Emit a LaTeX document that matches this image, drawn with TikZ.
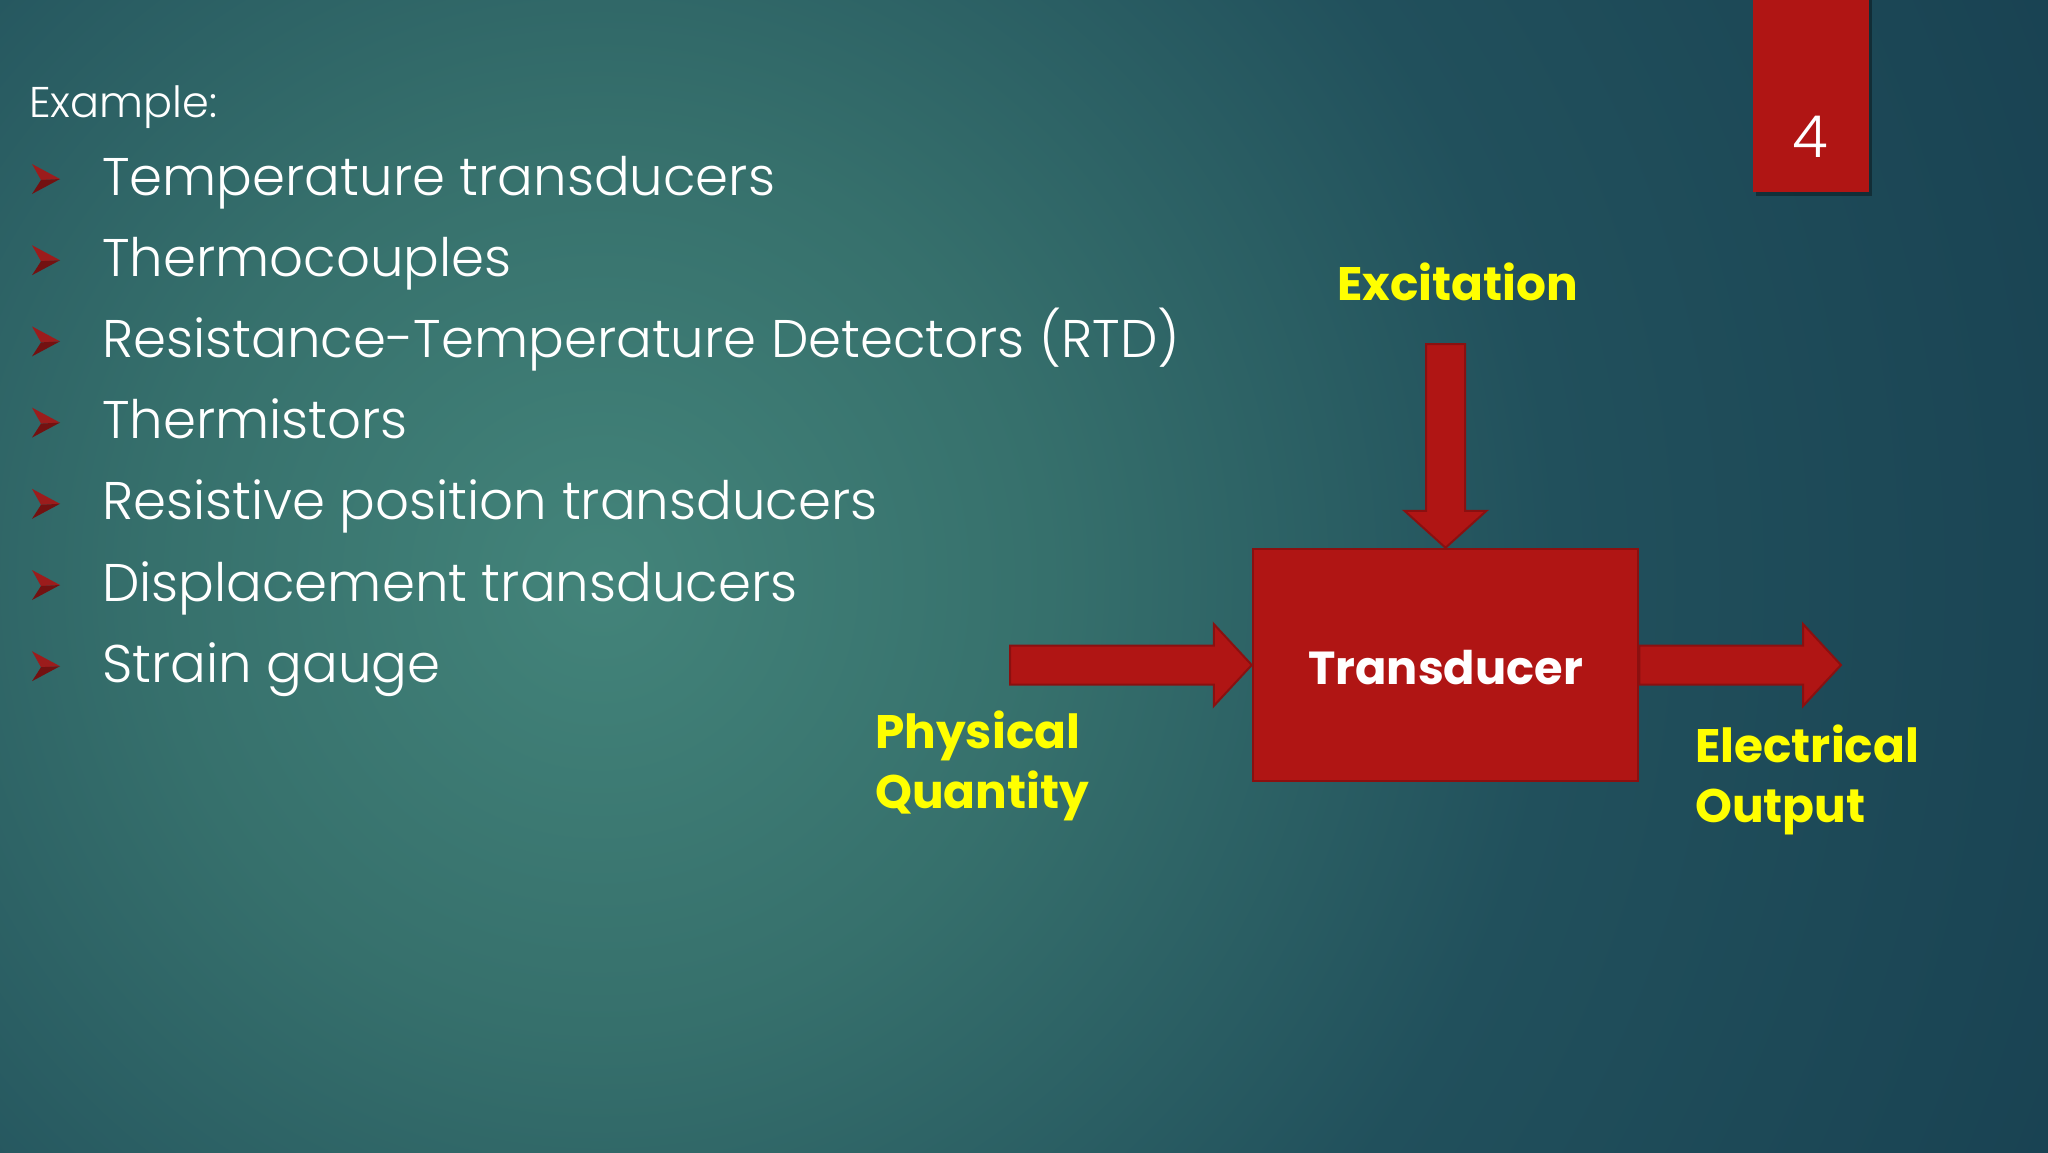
\documentclass[tikz,border=0pt]{standalone}
\usepackage{fontspec}
\setmainfont{Poppins}
\newfontfamily\lightf{Poppins}[UprightFont={* Light}]
\newfontfamily\boldf{Poppins}[UprightFont={* Bold}]
\usetikzlibrary{calc}
\definecolor{bgA}{HTML}{43847A}
\definecolor{bgB}{HTML}{36706C}
\definecolor{bgC}{HTML}{21505C}
\definecolor{bgD}{HTML}{173F50}
\definecolor{bgE}{HTML}{123346}
\definecolor{redA}{HTML}{B01514}
\definecolor{redB}{HTML}{8A1010}
\definecolor{bulA}{HTML}{9C1C1C}
\definecolor{bulB}{HTML}{731111}
\definecolor{yel}{HTML}{FFFF00}
\pgfdeclareradialshading{bgshade}{\pgfpoint{0bp}{0bp}}{color(0bp)=(bgA); color(7bp)=(bgB); color(15bp)=(bgC); color(27bp)=(bgD); color(50bp)=(bgE)}
\tikzset{
  item/.style={anchor=base west, text=white, inner sep=0pt, font=\lightf\fontsize{53}{60}\selectfont},
  ylab/.style={anchor=base west, text=yel, inner sep=0pt, align=left},
  blk/.style={fill=redA, draw=redB, line width=2pt, line join=miter},
  bul/.pic={
    \fill[bulA] (0,-31) -- (28,-16) -- (9,-15) -- cycle;
    \fill[bulB] (9,-15) -- (28,-16) -- (0,-1) -- cycle;
  }
}
\begin{document}
\begin{tikzpicture}[x=1pt,y=-1pt]
\useasboundingbox (0,0) rectangle (2048,1152);
\begin{scope}
\clip (0,0) rectangle (2048,1152);
\fill[bgE] (0,0) rectangle (2048,1152);
\shade[shading=bgshade] (600,580) circle (1600);
\end{scope}
% page number tab
\fill[black, opacity=0.35] (1756,0) rectangle (1872,196);
\node[fill=redA, minimum width=116pt, minimum height=192pt, inner sep=0pt, anchor=north west] (tab) at (1753,0) {};
\node[anchor=base, text=white, inner sep=0pt, font=\lightf\fontsize{58}{60}\selectfont] (num) at (1810.5,157) {4};
% title and list
\node[anchor=base west, text=white, inner sep=0pt, font=\lightf\fontsize{43}{46}\selectfont] (ex) at (29,117) {Example:};
\foreach \t [count=\i] in {Temperature transducers, Thermocouples, Resistance-Temperature Detectors (RTD), Thermistors, Resistive position transducers, Displacement transducers, Strain gauge}{
  \pgfmathsetmacro{\yy}{195+81.2*(\i-1)}
  \pic at (32,\yy) {bul};
  \node[item] (it\i) at (102,\yy) {\t};
}
% transducer block
\node[fill=redA, draw=redB, line width=2.5pt, minimum width=385pt, minimum height=232pt, inner sep=0pt] (tr) at (1445.5,665) {};
\node[anchor=base, text=white, inner sep=0pt, font=\boldf\fontsize{46.3}{50}\selectfont] (trl) at (1445.5,684) {Transducer};
% arrows
\coordinate (etail) at (1445.5,344);
\draw[blk] ($(etail)+(-19.5,0)$) -- ($(etail)+(19.5,0)$) -- ($(tr.north)+(19.5,-37)$) -- ($(tr.north)+(41,-37)$) -- (tr.north) -- ($(tr.north)+(-41,-37)$) -- ($(tr.north)+(-19.5,-37)$) -- cycle;
\coordinate (ptail) at (1010,665);
\draw[blk] ($(ptail)+(0,-19.5)$) -- ($(tr.west)+(-38,-19.5)$) -- ($(tr.west)+(-38,-41)$) -- (tr.west) -- ($(tr.west)+(-38,41)$) -- ($(tr.west)+(-38,19.5)$) -- ($(ptail)+(0,19.5)$) -- cycle;
\coordinate (otip) at (1841,665);
\draw[blk] ($(tr.east)+(0,-19.5)$) -- ($(otip)+(-38,-19.5)$) -- ($(otip)+(-38,-41)$) -- (otip) -- ($(otip)+(-38,41)$) -- ($(otip)+(-38,19.5)$) -- ($(tr.east)+(0,19.5)$) -- cycle;
% labels
\node[ylab, font=\boldf\fontsize{47}{55}\selectfont] (exc) at (1337,300) {Excitation};
\node[ylab, font=\boldf\fontsize{47}{60}\selectfont] (phys) at (875,808) {Physical\\Quantity};
\node[ylab, font=\boldf\fontsize{47}{60}\selectfont] (elec) at (1695,822) {Electrical\\Output};
\end{tikzpicture}
\end{document}
